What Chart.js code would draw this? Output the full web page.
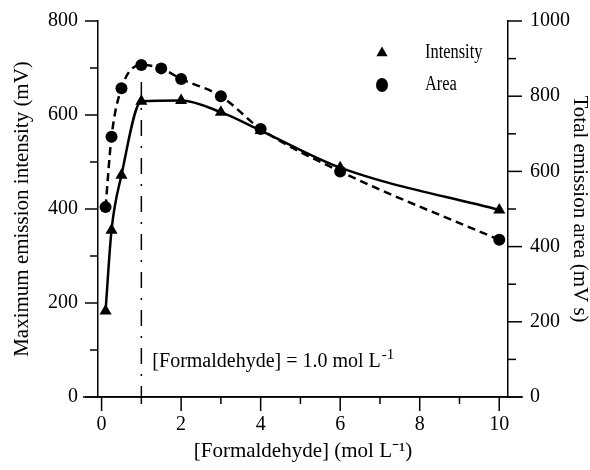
<!DOCTYPE html>
<html><head><meta charset="utf-8">
<script src="https://cdn.jsdelivr.net/npm/chart.js@4/dist/chart.umd.min.js"></script>
<style>html,body{margin:0;padding:0;background:#fff}#wrap{width:590px;height:470px}</style>
</head><body><div id="wrap"><canvas id="c" width="590" height="470"></canvas></div>
<script>
// ---- data ----
const intensityX = [0.1, 0.25, 0.5, 1, 2, 3, 4, 6, 10];
const intensityY = [183, 355, 472, 629, 631, 606, 567, 488, 398];
const areaX = [0.1, 0.25, 0.5, 1, 1.5, 2, 3, 4, 6, 10];
const areaY = [505, 692, 821, 883, 874, 846, 800, 713, 600, 418];
const markerX = [1, 1];
const markerY = [670, 0];
const xTicks = [0, 1, 2, 3, 4, 5, 6, 7, 8, 9, 10];
const xTickLabels = ['0', '', '2', '', '4', '', '6', '', '8', '', '10'];
const leftTicks = [0, 100, 200, 300, 400, 500, 600, 700, 800];
const leftTickLabels = ['0', '', '200', '', '400', '', '600', '', '800'];
const rightTicks = [0, 100, 200, 300, 400, 500, 600, 700, 800, 900, 1000];
const rightTickLabels = ['0', '', '200', '', '400', '', '600', '', '800', '', '1000'];
const seriesNames = ['Intensity', 'Area'];
const annotationText = '[Formaldehyde] = 1.0 mol L';
const annotationSup = '-1';

const F = '"Liberation Serif", "Times New Roman", serif';
const zip = (xs, ys) => xs.map((x, i) => ({x: x, y: ys[i]}));
const lbl = (ticks, labels) => (v) => { const i = ticks.indexOf(v); return i >= 0 ? labels[i] : ''; };

const decor = {
  id: 'decor',
  afterDraw(chart) {
    const ctx = chart.ctx, a = chart.chartArea;
    const sx = chart.scales.x, sl = chart.scales.yL, sr = chart.scales.yR;
    ctx.save();
    ctx.strokeStyle = '#000'; ctx.lineWidth = 1.5; ctx.setLineDash([]);
    // x axis line extension
    ctx.beginPath(); ctx.moveTo(a.left - 15, a.bottom); ctx.lineTo(a.right + 15, a.bottom); ctx.stroke();
    // x ticks
    xTicks.forEach((v, i) => {
      const p = sx.getPixelForValue(v);
      const len = xTickLabels[i] ? 14 : 7;
      ctx.beginPath(); ctx.moveTo(p, a.bottom); ctx.lineTo(p, a.bottom + len); ctx.stroke();
    });
    leftTicks.forEach((v, i) => {
      const p = sl.getPixelForValue(v);
      const len = leftTickLabels[i] ? 13 : 8;
      ctx.beginPath(); ctx.moveTo(a.left, p); ctx.lineTo(a.left - len, p); ctx.stroke();
    });
    rightTicks.forEach((v, i) => {
      const p = sr.getPixelForValue(v);
      const len = rightTickLabels[i] ? 14 : 8;
      ctx.beginPath(); ctx.moveTo(a.right, p); ctx.lineTo(a.right + len, p); ctx.stroke();
    });
    // legend
    const lx = a.right - 126, tx = a.right - 83, ly1 = a.top + 32, ly2 = a.top + 64;
    ctx.fillStyle = '#000';
    const r = 6.5;
    ctx.beginPath();
    ctx.moveTo(lx, ly1 - r);
    ctx.lineTo(lx + Math.sin(2 * Math.PI / 3) * r, ly1 - Math.cos(2 * Math.PI / 3) * r);
    ctx.lineTo(lx + Math.sin(4 * Math.PI / 3) * r, ly1 - Math.cos(4 * Math.PI / 3) * r);
    ctx.closePath(); ctx.fill();
    ctx.beginPath(); ctx.ellipse(lx, ly2, 6, 7, 0, 0, Math.PI * 2); ctx.fill();
    ctx.font = '20px ' + F; ctx.textBaseline = 'middle'; ctx.textAlign = 'left';
    [[seriesNames[0], ly1], [seriesNames[1], ly2]].forEach(([t, y]) => {
      ctx.save(); ctx.translate(tx, y); ctx.scale(0.82, 1); ctx.fillText(t, 0, 0); ctx.restore();
    });
    // annotation
    ctx.textBaseline = 'alphabetic';
    ctx.font = '20px ' + F;
    const ax = sx.getPixelForValue(1) + 11, ay = a.bottom - 30;
    ctx.fillText(annotationText, ax, ay);
    const w = ctx.measureText(annotationText).width;
    ctx.font = '15px ' + F;
    ctx.fillText(annotationSup, ax + w + 1, ay - 8);
    ctx.restore();
  }
};

new Chart(document.getElementById('c'), {
  type: 'scatter',
  data: {
    datasets: [
      { label: seriesNames[0], data: zip(intensityX, intensityY), yAxisID: 'yL', showLine: true,
        borderColor: '#000', backgroundColor: '#000', borderWidth: 2.5, cubicInterpolationMode: 'monotone',
        pointStyle: 'triangle', pointRadius: 7, pointBorderWidth: 0, pointBackgroundColor: '#000' },
      { label: seriesNames[1], data: zip(areaX, areaY), yAxisID: 'yR', showLine: true,
        borderColor: '#000', backgroundColor: '#000', borderWidth: 2.5, borderDash: [8, 5], cubicInterpolationMode: 'monotone',
        pointStyle: 'circle', pointRadius: 6, pointBorderWidth: 0, pointBackgroundColor: '#000' },
      { label: 'marker', data: zip(markerX, markerY), yAxisID: 'yL', showLine: true,
        borderColor: '#000', borderWidth: 1.5, borderDash: [16, 10, 2, 10], pointRadius: 0 }
    ]
  },
  options: {
    responsive: false, devicePixelRatio: 1, animation: false,
    layout: { padding: { top: 21, left: 0, right: 0, bottom: 0 } },
    plugins: { legend: { display: false }, tooltip: { enabled: false } },
    scales: {
      x: {
        type: 'linear', position: 'bottom', min: -0.09, max: 10.22,
        afterBuildTicks: s => { s.ticks = xTicks.map(v => ({value: v})); },
        afterFit: s => { s.height = 73; },
        ticks: { callback: lbl(xTicks, xTickLabels), autoSkip: false, maxRotation: 0, minRotation: 0, padding: 3, color: '#000', font: {family: F, size: 20} },
        grid: { drawOnChartArea: false, drawTicks: true, tickLength: 13, color: 'transparent', tickColor: 'transparent' },
        border: { display: true, color: '#000', width: 1.5 },
        title: { display: true, text: '[Formaldehyde] (mol L⁻¹)', color: '#000', font: {family: F, size: 21, lineHeight: 1}, padding: {top: 0, bottom: 8} }
      },
      yL: {
        type: 'linear', position: 'left', min: 0, max: 800,
        afterBuildTicks: s => { s.ticks = leftTicks.map(v => ({value: v})); },
        afterFit: s => { s.width = 98; },
        ticks: { callback: lbl(leftTicks, leftTickLabels), autoSkip: false, padding: 7, color: '#000', font: {family: F, size: 20} },
        grid: { drawOnChartArea: false, drawTicks: true, tickLength: 13, color: 'transparent', tickColor: 'transparent' },
        border: { display: true, color: '#000', width: 1.5 },
        title: { display: true, text: 'Maximum emission intensity (mV)', color: '#000', font: {family: F, size: 21, lineHeight: 1}, padding: {top: 12} }
      },
      yR: {
        type: 'linear', position: 'right', min: 0, max: 1000,
        afterBuildTicks: s => { s.ticks = rightTicks.map(v => ({value: v})); },
        afterFit: s => { s.width = 82; },
        ticks: { callback: lbl(rightTicks, rightTickLabels), autoSkip: false, padding: 8, color: '#000', font: {family: F, size: 20} },
        grid: { drawOnChartArea: false, drawTicks: true, tickLength: 14, color: 'transparent', tickColor: 'transparent' },
        border: { display: true, color: '#000', width: 1.5 },
        title: { display: true, text: 'Total emission area (mV s)', color: '#000', font: {family: F, size: 21, lineHeight: 1}, padding: {top: 0} }
      }
    }
  },
  plugins: [decor]
});
</script>
</body></html>
